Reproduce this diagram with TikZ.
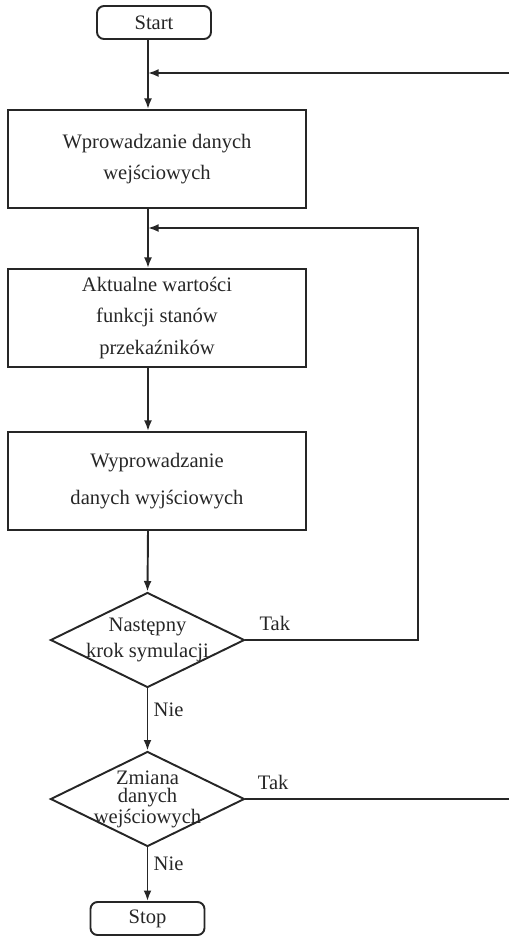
\documentclass[tikz,border=0pt]{standalone}
\usepackage{fontspec}
\setmainfont{Liberation Serif}
\usetikzlibrary{arrows.meta, positioning, shapes.geometric}

\begin{document}
\begin{tikzpicture}[
    line width=1.1pt, draw=black!85, text=black!85,
    every node/.style={font=\fontsize{11.7}{18}\selectfont},
    terminal/.style={draw, rounded corners=4pt, minimum width=2.28cm, minimum height=0.66cm, inner sep=0pt},
    process/.style={draw, minimum width=5.96cm, minimum height=1.96cm, align=center, inner sep=0pt},
    decision/.style={draw, diamond, minimum width=3.88cm, minimum height=1.9cm, inner sep=0pt},
    flow/.style={-{Latex[length=6pt,width=4.5pt]}},
    answer/.style={inner sep=0pt}
]
    \useasboundingbox (0, 0) rectangle (10.18, -18.72);

    % bloki
    \node[terminal] (start) at (3.08, -0.45) {Start};
    \node[process] (input) at (3.14, -3.18) {Wprowadzanie danych\\wejściowych};
    \node[process] (state) at (3.14, -6.36) {Aktualne wartości\\funkcji stanów\\przekaźników};
    \node[process] (output) at (3.14, -9.62) {Wyprowadzanie\\[3pt]danych wyjściowych};
    \node[decision, label={[align=center, inner sep=0pt]center:Następny\\[-3pt]krok symulacji}] (nextstep) at (2.95, -12.8) {};
    \node[decision, label={[align=center, inner sep=0pt, font=\fontsize{11.7}{10.5}\selectfont]center:Zmiana\\danych\\wejściowych}] (change) at (2.95, -15.98) {};
    \node[terminal] (stop) at (2.95, -18.37) {Stop};

    % punkty pomocnicze
    \coordinate (spine) at (2.96, 0);
    \coordinate (join1) at (2.96, -1.46);
    \coordinate (back1) at (10.18, -1.46);
    \coordinate (join2) at (2.96, -4.56);
    \coordinate (back2) at (8.36, -4.56);
    \coordinate (exit2) at (10.18, -15.98);

    % glowna linia
    \draw (start.south -| spine) -- (join1);
    \draw[flow] (join1) -- (input.north -| spine);
    \draw (input.south -| spine) -- (join2);
    \draw[flow] (join2) -- (state.north -| spine);
    \draw[flow] (state.south -| spine) -- (output.north -| spine);
    \draw[flow] (output.south -| spine) -- (nextstep.north);
    \draw[flow] (nextstep.south) -- node[answer, pos=0.35, right=3pt] {Nie} (change.north);
    \draw[flow] (change.south) -- node[answer, pos=0.31, right=3pt] {Nie} (stop.north);

    % petle
    \draw[flow] (back1) -- (join1);
    \draw[flow] (nextstep.east) -- node[answer, pos=0.17, above=4.5pt] {Tak} (nextstep.east -| back2) -- (back2) -- (join2);
    \draw (change.east) -- node[answer, pos=0.105, above=4.5pt] {Tak} (exit2);
\end{tikzpicture}
\end{document}
